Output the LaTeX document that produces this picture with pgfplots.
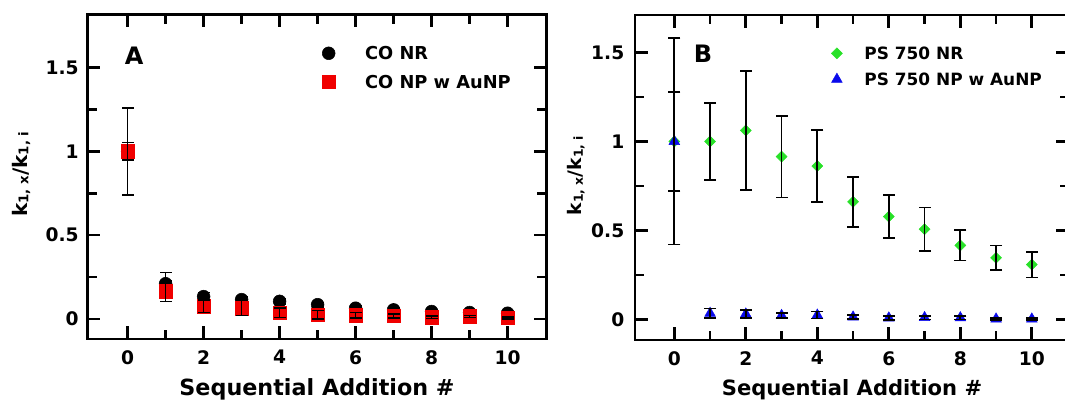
\documentclass[border=0pt]{standalone}
\usepackage{pgfplots}
\pgfplotsset{compat=1.18}
\usepackage{pgfplotstable}
\usepackage{fontspec}
\setmainfont{DejaVu Sans}

\definecolor{cored}{RGB}{240,0,0}
\definecolor{psgreen}{RGB}{40,225,40}
\definecolor{psblue}{RGB}{10,10,235}

% bold text at a given size (pt)
\newcommand{\fs}[1]{\fontsize{#1}{#1}\selectfont\bfseries}
% normalised rate constant k_{1,x}/k_{1,i}
\newcommand{\ratiolabel}[2]{k\raisebox{-1pt}{\fs{#2}1, x}/k\raisebox{-1pt}{\fs{#2}1, i}}

% x  y  e  (sequential addition, k1x/k1i, error)
\pgfplotstableread{
x  y      e
0  1.000  0.260
1  0.210  0.067
2  0.133  0.025
3  0.115  0.015
4  0.105  0.015
5  0.085  0.012
6  0.064  0.012
7  0.054  0.010
8  0.044  0.010
9  0.038  0.008
10 0.034  0.008
}\coNR
\pgfplotstableread{
x  y      e
0  1.000  0.052
1  0.165  0.062
2  0.075  0.037
3  0.065  0.045
4  0.037  0.028
5  0.025  0.025
6  0.022  0.016
7  0.018  0.012
8  0.010  0.008
9  0.014  0.006
10 0.006  0.006
}\coNP
\pgfplotstableread{
x  y      e
0  1.000  0.580
1  1.000  0.218
2  1.062  0.336
3  0.915  0.229
4  0.862  0.202
5  0.661  0.140
6  0.578  0.122
7  0.507  0.122
8  0.416  0.086
9  0.346  0.069
10 0.308  0.072
}\psNR
\pgfplotstableread{
x  y      e
0  1.000  0.280
1  0.034  0.027
2  0.030  0.022
3  0.022  0.015
4  0.024  0.020
5  0.013  0.010
6  0.008  0.010
7  0.010  0.010
8  0.009  0.010
9  0.002  0.006
10 0.002  0.006
}\psNP

\pgfplotsset{
  panel/.style={
    scale only axis,
    clip marker paths=true,
    axis line style={line width=2.1pt},
    tick align=inside,
    major tick length=9.5pt,
    minor tick length=7pt,
    tick style={black, line width=2pt},
    xtick={0,2,...,10}, minor xtick={1,3,...,9},
    ytick={0,0.5,1,1.5}, minor ytick={0.25,0.75,1.25},
    /pgf/number format/assume math mode=true,
    tick label style={font=\fs{14}},
    yticklabel style={xshift=-3pt},
    xticklabel style={yshift=-5pt},
    legend cell align=left,
    every error bar/.append style={black, line width=1.25pt, solid},
  },
  % vertical error bar lines, drawn over the markers
  bars/.style={forget plot, only marks, mark=text, text mark={}, black, line width=1.25pt,
    error bars/.cd, y dir=both, y explicit, error mark=none,
    error bar style={black, line width=1.25pt, solid}},
  % end caps of the error bars
  caps/.style={forget plot, only marks, mark=-, mark size=4.5pt,
    mark options={black, line width=1.25pt, solid}},
}

% error bar of a table: line plus both caps
\newcommand{\errbar}[1]{%
  \addplot[bars] table[x=x, y=y, y error=e] {#1};
  \addplot[caps] table[x=x, y expr=\thisrow{y}+\thisrow{e}] {#1};
  \addplot[caps] table[x=x, y expr=\thisrow{y}-\thisrow{e}] {#1};
}

\begin{document}
\begin{tikzpicture}
\path[use as bounding box] (0pt,0pt) rectangle (798.75pt,300pt);
\clip (0pt,0pt) rectangle (798.75pt,300pt);

% ---------- panel A ----------
\begin{axis}[panel,
  at={(65.5pt,45.75pt)}, anchor=south west,
  width=344.55pt, height=243.5pt,
  xmin=-1.06, xmax=11.03, ymin=-0.12, ymax=1.818,
  xlabel={Sequential Addition \#},
  every axis x label/.style={at={(axis description cs:0.5,0)}, anchor=base, yshift=-42pt, font=\fs{16.7}},
  ylabel={\ratiolabel{15}{10}},
  every axis y label/.style={at={(axis description cs:-0.1443,0.508)}, rotate=90, anchor=center, font=\fs{15}},
  legend style={draw=none, fill=none, inner sep=0pt, font=\fs{13.35},
    at={(axis description cs:0.510,0.901)}, anchor=north west,
    row sep=11.5pt, column sep=22.25pt,
    nodes={inner sep=0pt, text height=9.8pt, text depth=0pt}},
]
\addplot[only marks, mark=*, mark size=4.8pt, mark options={draw=black, fill=black}] table[x=x, y=y] {\coNR};
\addlegendentry{CO NR}
\errbar{\coNR}
\addplot[only marks, mark=square*, mark size=5.1pt, mark options={draw=cored, fill=cored}] table[x=x, y=y] {\coNP};
\addlegendentry{CO NP w AuNP}
\errbar{\coNP}
\node[font=\fs{18}] at (rel axis cs:0.1017,0.8716) {A};
\end{axis}

% ---------- panel B ----------
\begin{axis}[panel,
  at={(476.25pt,45pt)}, anchor=south west,
  width=325.5pt, height=243.75pt,
  xmin=-1.1, xmax=11.04, ymin=-0.116, ymax=1.711,
  xlabel={Sequential Addition \#},
  every axis x label/.style={at={(axis description cs:0.5,0)}, anchor=base, yshift=-41.25pt, font=\fs{15.8}},
  ylabel={\ratiolabel{14}{9.3}},
  every axis y label/.style={at={(axis description cs:-0.136,0.506)}, rotate=90, anchor=center, font=\fs{14}},
  yticklabel style={xshift=-1.5pt},
  legend style={draw=none, fill=none, inner sep=0pt, font=\fs{12.7},
    at={(axis description cs:0.452,0.902)}, anchor=north west,
    row sep=10.2pt, column sep=16.5pt,
    nodes={inner sep=0pt, text height=9.3pt, text depth=0pt}},
]
\addplot[only marks, mark=square*, mark size=2.9pt, mark options={rotate=45, draw=psgreen, fill=psgreen}] table[x=x, y=y] {\psNR};
\addlegendentry{PS 750 NR}
\errbar{\psNR}
\addplot[only marks, mark=triangle*, mark size=4.6pt, mark options={draw=psblue, fill=psblue}] table[x=x, y=y] {\psNP};
\addlegendentry{PS 750 NP w AuNP}
\errbar{\psNP}
\node[font=\fs{18}] at (rel axis cs:0.1567,0.88) {B};
\end{axis}
\end{tikzpicture}
\end{document}
